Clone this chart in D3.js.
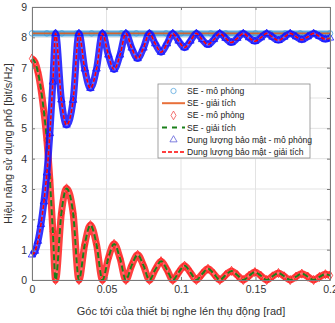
<!DOCTYPE html>
<html>
<head>
<meta charset="utf-8">
<script src="https://cdn.jsdelivr.net/npm/d3@7"></script>
<style>
  body { margin: 0; background: #fff; }
  svg { display: block; }
  text { font-family: "Liberation Sans", Arial, sans-serif; }
</style>
</head>
<body>
<svg id="chart" width="335" height="323"></svg>
<script>
// Góc tới (rad) - trục x
const angle = [
  0, 0.002, 0.004, 0.006, 0.008, 0.010, 0.012, 0.014, 0.0158,
  0.0197, 0.0232, 0.0276, 0.0315,
  0.0354, 0.0392, 0.0433, 0.0473,
  0.0512, 0.0551, 0.0591, 0.0630,
  0.0669, 0.0709, 0.0748, 0.0788,
  0.0827, 0.0866, 0.0906, 0.0945,
  0.0984, 0.1024, 0.1063, 0.1103,
  0.1142, 0.1181, 0.1221, 0.1260,
  0.1299, 0.1339, 0.1378, 0.1418,
  0.1457, 0.1496, 0.1536, 0.1575,
  0.1614, 0.1654, 0.1693, 0.1733,
  0.1772, 0.1811, 0.1851, 0.1890,
  0.1929, 0.1969, 0.2000
];

// SE của thiết bị nghe lén (đường dưới)
const seEve = [
  7.30, 7.18, 6.85, 6.30, 5.55, 4.60, 3.30, 1.60, 0,
  2.19, 3.02, 2.20, 0,
  1.17, 1.81, 1.17, 0,
  0.71, 1.19, 0.71, 0,
  0.48, 0.83, 0.48, 0,
  0.34, 0.62, 0.34, 0,
  0.25, 0.47, 0.25, 0,
  0.20, 0.37, 0.20, 0,
  0.16, 0.30, 0.16, 0,
  0.14, 0.26, 0.14, 0,
  0.12, 0.23, 0.12, 0,
  0.11, 0.21, 0.11, 0,
  0.10, 0.19, 0.15
];

// Dung lượng bảo mật (đường trên)
const secrecyCap = [
  0.83, 0.95, 1.28, 1.83, 2.58, 3.53, 4.83, 6.53, 8.13,
  5.94, 5.11, 5.93, 8.13,
  6.96, 6.32, 6.96, 8.13,
  7.42, 6.94, 7.42, 8.13,
  7.65, 7.30, 7.65, 8.13,
  7.79, 7.51, 7.79, 8.13,
  7.88, 7.66, 7.88, 8.13,
  7.93, 7.76, 7.93, 8.13,
  7.97, 7.83, 7.97, 8.13,
  7.99, 7.87, 7.99, 8.13,
  8.01, 7.90, 8.01, 8.13,
  8.02, 7.92, 8.02, 8.13,
  8.03, 7.94, 7.98
];

// SE của người dùng hợp pháp (gần như không đổi)
const legitAngle = [0, 0.01, 0.02, 0.03, 0.04, 0.05, 0.06, 0.07, 0.08, 0.09, 0.10,
  0.11, 0.12, 0.13, 0.14, 0.15, 0.16, 0.17, 0.18, 0.19, 0.20];
const seLegit = [8.13, 8.13, 8.13, 8.13, 8.13, 8.13, 8.13, 8.13, 8.13, 8.13, 8.13,
  8.13, 8.13, 8.13, 8.13, 8.13, 8.13, 8.13, 8.13, 8.13, 8.13];

const xTicks = [0, 0.05, 0.1, 0.15, 0.2];
const xTickLabels = ['0', '0.05', '0.1', '0.15', '0.2'];
const yTicks = [0, 1, 2, 3, 4, 5, 6, 7, 8, 9];

const legendLabels = [
  'SE - mô phỏng',
  'SE - giải tích',
  'SE - mô phỏng',
  'SE - giải tích',
  'Dung lượng bảo mật - mô phỏng',
  'Dung lượng bảo mật - giải tích'
];

const svg = d3.select('#chart');
const margin = { top: 7, right: 5, bottom: 43, left: 32 };
const width = +svg.attr('width') - margin.left - margin.right;
const height = +svg.attr('height') - margin.top - margin.bottom;

const g = svg.append('g')
  .attr('transform', `translate(${margin.left},${margin.top})`);

const x = d3.scaleLinear().domain([0, 0.2]).range([0, width]);
const y = d3.scaleLinear().domain([0, 9]).range([height, 0]);

// Lưới
g.append('g').selectAll('line.vx')
  .data(xTicks).enter().append('line')
  .attr('x1', d => x(d)).attr('x2', d => x(d))
  .attr('y1', 0).attr('y2', height)
  .attr('stroke', '#e3e3e3');
g.append('g').selectAll('line.hy')
  .data(yTicks).enter().append('line')
  .attr('x1', 0).attr('x2', width)
  .attr('y1', d => y(d)).attr('y2', d => y(d))
  .attr('stroke', '#e3e3e3');

const pts = (xs, ys) => xs.map((v, i) => [v, ys[i]]);
const line = d3.line()
  .x(d => x(d[0]))
  .y(d => y(d[1]))
  .curve(d3.curveMonotoneX);

// Vẽ chuỗi mô phỏng: dải marker dày đặc + marker tại điểm dữ liệu
function drawSim(data, color, bandWidth, symbolType, size, inner) {
  g.append('path')
    .datum(data)
    .attr('d', line)
    .attr('fill', 'none')
    .attr('stroke', color)
    .attr('stroke-width', bandWidth)
    .attr('stroke-opacity', 0.85)
    .attr('stroke-linejoin', 'round');
  if (inner) {
    g.append('path')
      .datum(data)
      .attr('d', line)
      .attr('fill', 'none')
      .attr('stroke', '#fff')
      .attr('stroke-width', bandWidth * 0.3)
      .attr('stroke-opacity', inner);
  }
  g.append('g').selectAll('path')
    .data(data).enter().append('path')
    .attr('transform', d => `translate(${x(d[0])},${y(d[1])})`)
    .attr('d', d3.symbol().type(symbolType).size(size))
    .attr('fill', 'none')
    .attr('stroke', color)
    .attr('stroke-width', 0.8);
}

function drawLine(data, color, w, dash) {
  g.append('path')
    .datum(data)
    .attr('d', line)
    .attr('fill', 'none')
    .attr('stroke', color)
    .attr('stroke-width', w)
    .attr('stroke-dasharray', dash || null);
}

const legitData = pts(legitAngle, seLegit);
const eveData = pts(angle, seEve);
const secData = pts(angle, secrecyCap);

drawSim(legitData, '#3a9ad9', 6, d3.symbolCircle, 24, 0);
drawLine(legitData, '#d2642e', 1.6);
drawSim(eveData, '#ff1e1e', 7, d3.symbolDiamond, 24, 0.25);
drawLine(eveData, '#1a801a', 2, '6,3');
drawSim(secData, '#1010ff', 7, d3.symbolTriangle, 24, 0.25);
drawLine(secData, '#ff0000', 1.6, '4,2');

// Trục
const axisColor = '#7a7a7a';
g.append('g')
  .attr('transform', `translate(0,${height})`)
  .call(d3.axisBottom(x).tickValues(xTicks).tickFormat((d, i) => xTickLabels[i])
    .tickSizeInner(-3).tickSizeOuter(0).tickPadding(6));
g.append('g')
  .call(d3.axisLeft(y).tickValues(yTicks).tickFormat(d3.format('d'))
    .tickSizeInner(-3).tickSizeOuter(0).tickPadding(5));
g.append('g')
  .call(d3.axisTop(x).tickValues(xTicks).tickFormat('').tickSizeInner(-3).tickSizeOuter(0));
g.append('g')
  .attr('transform', `translate(${width},0)`)
  .call(d3.axisRight(y).tickValues(yTicks).tickFormat('').tickSizeInner(-3).tickSizeOuter(0));

g.selectAll('.domain').attr('stroke', axisColor);
g.selectAll('.tick line').attr('stroke', axisColor);
g.selectAll('.tick text')
  .attr('fill', '#333')
  .style('font-size', '10.5px');

// Nhãn trục
svg.append('text')
  .attr('x', margin.left + width / 2)
  .attr('y', 315)
  .attr('text-anchor', 'middle')
  .attr('fill', '#333')
  .style('font-size', '11px')
  .text('Góc tới của thiết bị nghe lén thụ động [rad]');

svg.append('text')
  .attr('transform', `translate(12,${margin.top + height / 2}) rotate(-90)`)
  .attr('text-anchor', 'middle')
  .attr('fill', '#333')
  .style('font-size', '11px')
  .text('Hiệu năng sử dụng phổ [bit/s/Hz]');

// Chú thích
const lg = svg.append('g').attr('transform', 'translate(158,84)');
lg.append('rect')
  .attr('width', 152).attr('height', 74)
  .attr('fill', '#fff')
  .attr('stroke', '#8a8a8a')
  .attr('stroke-width', 0.8);

const legendStyles = [
  { kind: 'marker', color: '#5aa8de', symbol: d3.symbolCircle },
  { kind: 'line', color: '#e8703a', w: 2 },
  { kind: 'marker', color: '#f05050', symbol: d3.symbolDiamond },
  { kind: 'line', color: '#1a801a', w: 2, dash: '5,5' },
  { kind: 'marker', color: '#6060d8', symbol: d3.symbolTriangle },
  { kind: 'line', color: '#ff0000', w: 1.6, dash: '4,2' }
];

const rows = lg.selectAll('g.row')
  .data(legendLabels).enter().append('g')
  .attr('transform', (d, i) => `translate(0,${7 + i * 12.2})`);

rows.each(function (d, i) {
  const r = d3.select(this);
  const s = legendStyles[i];
  if (s.kind === 'marker') {
    r.append('path')
      .attr('transform', 'translate(15.5,0)')
      .attr('d', d3.symbol().type(s.symbol).size(22))
      .attr('fill', 'none')
      .attr('stroke', s.color)
      .attr('stroke-width', 0.8);
  } else {
    r.append('line')
      .attr('x1', 4).attr('x2', 27)
      .attr('stroke', s.color)
      .attr('stroke-width', s.w)
      .attr('stroke-dasharray', s.dash || null);
  }
  r.append('text')
    .attr('x', 29)
    .attr('dy', '0.35em')
    .attr('fill', '#222')
    .style('font-size', '8.6px')
    .text(d);
});
</script>
</body>
</html>
